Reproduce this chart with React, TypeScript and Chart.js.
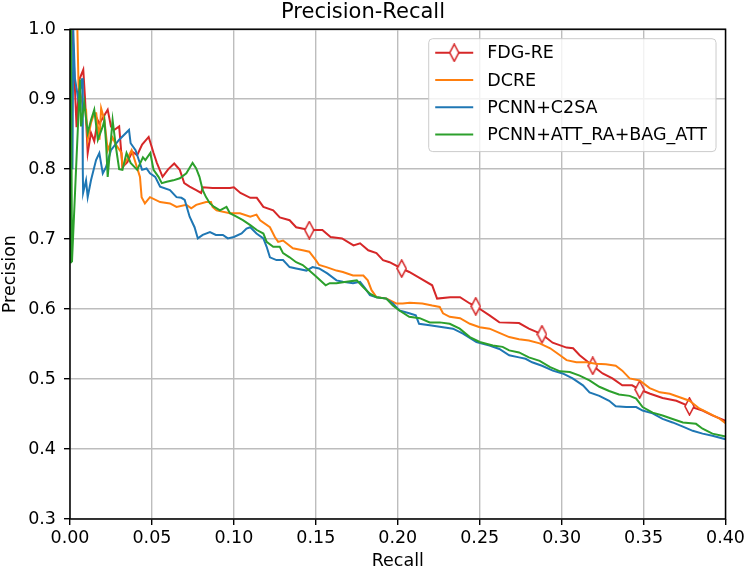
import { useEffect, useRef } from "react";
import Chart from "chart.js/auto";

type Pt = [number, number];

// [recall, precision]
const fdgRe: Pt[] = [
  [0.0015, 1.0], [0.004, 0.86], [0.0057, 0.928], [0.0081, 0.942], [0.0091, 0.904], [0.0108, 0.823],
  [0.0128, 0.852], [0.0148, 0.84], [0.0169, 0.87], [0.0179, 0.865], [0.023, 0.885], [0.025, 0.861],
  [0.027, 0.856], [0.03, 0.861], [0.032, 0.803], [0.035, 0.81], [0.038, 0.825], [0.041, 0.82],
  [0.044, 0.835], [0.048, 0.846], [0.051, 0.823], [0.053, 0.809], [0.0565, 0.789], [0.06, 0.8],
  [0.0636, 0.808], [0.067, 0.799], [0.0697, 0.78], [0.073, 0.775], [0.077, 0.77], [0.08, 0.766],
  [0.081, 0.774], [0.087, 0.773], [0.0976, 0.773], [0.1, 0.774], [0.104, 0.766], [0.11, 0.759],
  [0.114, 0.759], [0.118, 0.746], [0.124, 0.741], [0.128, 0.731], [0.134, 0.727], [0.138, 0.717],
  [0.146, 0.713], [0.154, 0.713], [0.159, 0.703], [0.166, 0.701], [0.173, 0.691], [0.177, 0.694],
  [0.182, 0.684], [0.187, 0.68], [0.191, 0.67], [0.195, 0.667], [0.2024, 0.658], [0.207, 0.653],
  [0.213, 0.645], [0.221, 0.634], [0.224, 0.615], [0.232, 0.617], [0.238, 0.617], [0.244, 0.608],
  [0.2476, 0.604], [0.256, 0.591], [0.262, 0.581], [0.274, 0.58], [0.28, 0.572], [0.285, 0.567],
  [0.288, 0.564], [0.2945, 0.552], [0.303, 0.545], [0.307, 0.544], [0.311, 0.534], [0.319, 0.519],
  [0.325, 0.508], [0.331, 0.501], [0.337, 0.491], [0.343, 0.491], [0.3476, 0.485], [0.354, 0.479],
  [0.3616, 0.473], [0.37, 0.469], [0.378, 0.461], [0.386, 0.455], [0.392, 0.448], [0.3994, 0.441],
  [0.4, 0.44],
];

const dcre: Pt[] = [
  [0.0045, 1.0], [0.0052, 0.92], [0.007, 0.9], [0.0087, 0.885], [0.0098, 0.885], [0.0108, 0.842],
  [0.0128, 0.866], [0.0148, 0.88], [0.016, 0.88], [0.018, 0.842], [0.019, 0.887], [0.021, 0.87],
  [0.023, 0.827], [0.026, 0.845], [0.028, 0.835], [0.0315, 0.823], [0.032, 0.803], [0.035, 0.815],
  [0.0376, 0.827], [0.0427, 0.789], [0.0437, 0.76], [0.0457, 0.751], [0.0488, 0.76], [0.055, 0.753],
  [0.061, 0.751], [0.065, 0.746], [0.071, 0.749], [0.074, 0.744], [0.077, 0.749], [0.083, 0.753],
  [0.086, 0.753], [0.087, 0.746], [0.0894, 0.741], [0.0976, 0.737], [0.1037, 0.737], [0.11, 0.732],
  [0.1138, 0.735], [0.116, 0.727], [0.122, 0.717], [0.125, 0.703], [0.127, 0.696], [0.13, 0.698],
  [0.136, 0.687], [0.142, 0.684], [0.146, 0.682], [0.15, 0.67], [0.152, 0.663], [0.1565, 0.66],
  [0.1626, 0.655], [0.1665, 0.653], [0.1727, 0.648], [0.179, 0.648], [0.1817, 0.641], [0.184, 0.627],
  [0.187, 0.617], [0.193, 0.615], [0.199, 0.608], [0.203, 0.608], [0.2073, 0.609], [0.215, 0.608],
  [0.221, 0.605], [0.2256, 0.603], [0.2276, 0.594], [0.2317, 0.589], [0.238, 0.587], [0.244, 0.579],
  [0.25, 0.574], [0.256, 0.572], [0.262, 0.566], [0.268, 0.56], [0.274, 0.557], [0.28, 0.555],
  [0.2866, 0.551], [0.293, 0.544], [0.299, 0.534], [0.303, 0.527], [0.309, 0.524], [0.315, 0.524],
  [0.321, 0.522], [0.327, 0.521], [0.333, 0.519], [0.337, 0.512], [0.3415, 0.501], [0.3476, 0.498],
  [0.3537, 0.487], [0.36, 0.481], [0.366, 0.479], [0.372, 0.474], [0.378, 0.469], [0.384, 0.458],
  [0.39, 0.451], [0.396, 0.444], [0.4, 0.437],
];

const pcnnC2sa: Pt[] = [
  [0.0015, 0.8], [0.002, 1.0], [0.003, 0.93], [0.005, 0.9], [0.0075, 0.93], [0.0078, 0.8],
  [0.008, 0.766], [0.0098, 0.784], [0.0108, 0.76], [0.0128, 0.784], [0.0159, 0.813], [0.0179, 0.823],
  [0.02, 0.794], [0.022, 0.803], [0.025, 0.827], [0.03, 0.842], [0.036, 0.856], [0.037, 0.837],
  [0.04, 0.827], [0.042, 0.813], [0.044, 0.799], [0.0467, 0.801], [0.0488, 0.794], [0.052, 0.789],
  [0.055, 0.775], [0.061, 0.77], [0.065, 0.76], [0.068, 0.759], [0.07, 0.756], [0.073, 0.732],
  [0.076, 0.717], [0.078, 0.701], [0.081, 0.706], [0.0854, 0.71], [0.089, 0.706], [0.0933, 0.706],
  [0.0963, 0.701], [0.1, 0.703], [0.1047, 0.708], [0.1077, 0.715], [0.11, 0.717], [0.1138, 0.708],
  [0.118, 0.701], [0.12, 0.689], [0.122, 0.674], [0.126, 0.67], [0.13, 0.67], [0.134, 0.66],
  [0.138, 0.658], [0.1443, 0.655], [0.148, 0.66], [0.152, 0.658], [0.157, 0.651], [0.1626, 0.641],
  [0.1665, 0.639], [0.1727, 0.637], [0.177, 0.639], [0.18, 0.63], [0.183, 0.62], [0.187, 0.617],
  [0.193, 0.615], [0.197, 0.608], [0.201, 0.598], [0.207, 0.594], [0.211, 0.591], [0.213, 0.579],
  [0.2195, 0.577], [0.2276, 0.574], [0.2337, 0.572], [0.2398, 0.565], [0.248, 0.553], [0.256, 0.548],
  [0.262, 0.543], [0.268, 0.534], [0.274, 0.531], [0.278, 0.529], [0.282, 0.524], [0.288, 0.519],
  [0.2946, 0.512], [0.3006, 0.508], [0.3067, 0.501], [0.313, 0.491], [0.317, 0.481], [0.323, 0.476],
  [0.329, 0.469], [0.333, 0.461], [0.3394, 0.46], [0.3455, 0.46], [0.3494, 0.455], [0.3555, 0.451],
  [0.3616, 0.443], [0.3677, 0.438], [0.374, 0.432], [0.38, 0.426], [0.386, 0.422], [0.392, 0.419],
  [0.4, 0.414],
];

const pcnnAttRaBagAtt: Pt[] = [
  [0.0, 0.667], [0.0006, 1.0], [0.0012, 0.667], [0.0061, 0.928], [0.0067, 0.861], [0.0087, 0.895],
  [0.0108, 0.852], [0.0128, 0.87], [0.0148, 0.885], [0.017, 0.842], [0.02, 0.861], [0.021, 0.87],
  [0.022, 0.837], [0.023, 0.789], [0.026, 0.87], [0.028, 0.832], [0.03, 0.8], [0.032, 0.799],
  [0.0345, 0.823], [0.037, 0.809], [0.041, 0.799], [0.0445, 0.817], [0.046, 0.813], [0.049, 0.823],
  [0.051, 0.799], [0.054, 0.789], [0.056, 0.78], [0.059, 0.782], [0.063, 0.784], [0.067, 0.787],
  [0.071, 0.794], [0.0748, 0.809], [0.077, 0.801], [0.079, 0.789], [0.081, 0.77], [0.083, 0.76],
  [0.0854, 0.751], [0.088, 0.746], [0.0915, 0.741], [0.0955, 0.746], [0.0976, 0.737], [0.1016, 0.732],
  [0.1055, 0.727], [0.11, 0.72], [0.114, 0.713], [0.118, 0.708], [0.12, 0.696], [0.124, 0.689],
  [0.128, 0.689], [0.13, 0.68], [0.134, 0.674], [0.138, 0.667], [0.142, 0.663], [0.146, 0.655],
  [0.15, 0.647], [0.156, 0.634], [0.1585, 0.637], [0.1626, 0.637], [0.1687, 0.639], [0.175, 0.641],
  [0.1787, 0.632], [0.183, 0.622], [0.187, 0.617], [0.193, 0.615], [0.197, 0.605], [0.201, 0.598],
  [0.207, 0.589], [0.2134, 0.587], [0.2195, 0.581], [0.2256, 0.581], [0.2317, 0.579], [0.2378, 0.572],
  [0.244, 0.56], [0.25, 0.553], [0.258, 0.548], [0.264, 0.546], [0.268, 0.541], [0.274, 0.538],
  [0.28, 0.531], [0.2866, 0.526], [0.293, 0.517], [0.299, 0.511], [0.305, 0.51], [0.311, 0.505],
  [0.317, 0.498], [0.323, 0.489], [0.329, 0.483], [0.335, 0.478], [0.3415, 0.476], [0.3455, 0.472],
  [0.3494, 0.46], [0.3555, 0.452], [0.3616, 0.448], [0.3677, 0.443], [0.374, 0.438], [0.382, 0.436],
  [0.386, 0.429], [0.392, 0.422], [0.4, 0.418],
];

// recall values on the FDG-RE curve that carry a diamond marker
const fdgMarkerRecall = [0.146, 0.2024, 0.2476, 0.288, 0.319, 0.3476, 0.378];

const seriesLabels = ["FDG-RE", "DCRE", "PCNN+C2SA", "PCNN+ATT_RA+BAG_ATT"];
const recallTicks = [0, 0.05, 0.1, 0.15, 0.2, 0.25, 0.3, 0.35, 0.4];
const precisionTicks = [0.3, 0.4, 0.5, 0.6, 0.7, 0.8, 0.9, 1.0];

const FONT = "'DejaVu Sans', sans-serif";
const COLORS = ["#d62728", "#ff7f0e", "#1f77b4", "#2ca02c"];
const GRID = "#bdbdbd";

function makeDiamond(color: string): HTMLCanvasElement {
  const c = document.createElement("canvas");
  c.width = 11;
  c.height = 19;
  const g = c.getContext("2d")!;
  g.beginPath();
  g.moveTo(5.5, 1);
  g.lineTo(10, 9.5);
  g.lineTo(5.5, 18);
  g.lineTo(1, 9.5);
  g.closePath();
  g.fillStyle = "#ffffff";
  g.fill();
  g.lineWidth = 1.6;
  g.strokeStyle = color;
  g.stroke();
  return c;
}

export default function App() {
  const chartRef = useRef<HTMLCanvasElement>(null);

  useEffect(() => {
    document.body.style.margin = "0";
    if (!chartRef.current) return;
    const ctx = chartRef.current.getContext("2d");
    if (!ctx) return;

    const diamond = makeDiamond(COLORS[0]);
    const series = [fdgRe, dcre, pcnnC2sa, pcnnAttRaBagAtt];

    // black frame on all four sides, like matplotlib spines
    const spinesPlugin = {
      id: "spines",
      afterDatasetsDraw(chart: any) {
        const { ctx: c, chartArea: a } = chart;
        c.save();
        c.strokeStyle = "#000";
        c.lineWidth = 1.5;
        c.strokeRect(a.left, a.top, a.right - a.left, a.bottom - a.top);
        c.restore();
      },
    };

    // legend box in the upper right corner of the axes
    const legendPlugin = {
      id: "boxLegend",
      afterDraw(chart: any) {
        const { ctx: c, chartArea: a } = chart;
        c.save();
        c.font = `17.5px ${FONT}`;
        const labels: string[] = chart.data.datasets.map((d: any) => d.label);
        const textW = Math.max(...labels.map((l) => c.measureText(l).width));
        const rowH = 27.3;
        const handle = 38;
        const gap = 14;
        const padL = 6.5;
        const padR = 9;
        const w = padL + handle + gap + textW + padR;
        const h = 14 + rowH * (labels.length - 1) + 17;
        const x0 = a.right - 9.5 - w;
        const y0 = a.top + 9.5;
        c.beginPath();
        c.roundRect(x0, y0, w, h, 4);
        c.fillStyle = "rgba(255,255,255,0.8)";
        c.fill();
        c.lineWidth = 1;
        c.strokeStyle = "#cccccc";
        c.stroke();
        labels.forEach((label, i) => {
          const cy = y0 + 14 + i * rowH;
          const hx = x0 + padL;
          c.beginPath();
          c.moveTo(hx, cy);
          c.lineTo(hx + handle, cy);
          c.lineWidth = 2;
          c.strokeStyle = COLORS[i];
          c.stroke();
          if (i === 0) {
            c.drawImage(diamond, hx + handle / 2 - diamond.width / 2, cy - diamond.height / 2);
          }
          c.fillStyle = "#000";
          c.textBaseline = "middle";
          c.textAlign = "left";
          c.fillText(label, hx + handle + gap, cy + 1);
        });
        c.restore();
      },
    };

    const chart = new Chart(ctx, {
      type: "scatter",
      data: {
        datasets: series.map((pts, i) => ({
          label: seriesLabels[i],
          data: pts.map(([x, y]) => ({ x, y })),
          showLine: true,
          borderColor: COLORS[i],
          backgroundColor: COLORS[i],
          borderWidth: 2,
          tension: 0,
          order: series.length - i,
          pointStyle: i === 0 ? diamond : "circle",
          pointRadius:
            i === 0
              ? (c: any) => (c.raw && fdgMarkerRecall.includes(c.raw.x) ? 6 : 0)
              : 0,
          pointHoverRadius: 0,
        })),
      },
      options: {
        animation: false,
        responsive: true,
        maintainAspectRatio: false,
        events: [],
        layout: { padding: { top: 0, right: 22, bottom: 0, left: 0 } },
        plugins: {
          legend: { display: false },
          tooltip: { enabled: false },
          title: {
            display: true,
            text: "Precision-Recall",
            color: "#000",
            font: { family: FONT, size: 21, weight: "normal" },
            padding: { top: 0, bottom: 4 },
          },
        },
        scales: {
          x: {
            type: "linear",
            min: 0,
            max: 0.4,
            afterBuildTicks: (s: any) => {
              s.ticks = recallTicks.map((v) => ({ value: v }));
            },
            afterFit: (s: any) => {
              s.height = 53;
            },
            ticks: {
              color: "#000",
              font: { family: FONT, size: 17.5 },
              padding: 3,
              maxRotation: 0,
              callback: (v: any) => Number(v).toFixed(2),
            },
            grid: { color: GRID, lineWidth: 1.4, tickColor: "#000", tickLength: 6 },
            border: { display: false },
            title: {
              display: true,
              text: "Recall",
              color: "#000",
              font: { family: FONT, size: 17.5 },
              padding: 0,
            },
          },
          y: {
            type: "linear",
            min: 0.3,
            max: 1.0,
            afterBuildTicks: (s: any) => {
              s.ticks = precisionTicks.map((v) => ({ value: v }));
            },
            afterFit: (s: any) => {
              s.width = 70;
            },
            ticks: {
              color: "#000",
              font: { family: FONT, size: 17.5 },
              padding: 8,
              callback: (v: any) => Number(v).toFixed(1),
            },
            grid: { color: GRID, lineWidth: 1.4, tickColor: "#000", tickLength: 6 },
            border: { display: false },
            title: {
              display: true,
              text: "Precision",
              color: "#000",
              font: { family: FONT, size: 17.5 },
              padding: 0,
            },
          },
        },
      },
      plugins: [spinesPlugin, legendPlugin],
    } as any);

    return () => {
      chart.destroy();
    };
  }, []);

  return (
    <div style={{ width: 748, height: 572, position: "relative" }}>
      <canvas ref={chartRef}></canvas>
    </div>
  );
}
